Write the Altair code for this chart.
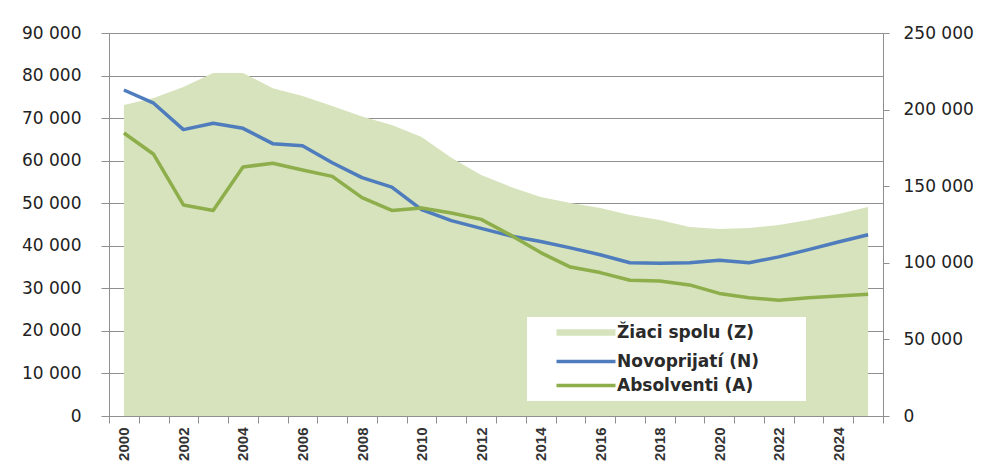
import altair as alt
import pandas as pd

years = [str(y) for y in range(2000, 2026)]
novoprijati = [76600, 73500, 67300, 68800, 67600, 64000, 63500, 59500, 56000, 53800,
               48500, 45900, 44100, 42300, 41000, 39500, 37900, 36000, 35900, 36000,
               36600, 36000, 37400, 39100, 40900, 42600]
absolventi = [66500, 61500, 49600, 48300, 58500, 59400, 57800, 56300, 51300, 48300,
              48900, 47700, 46200, 42500, 38400, 35000, 33700, 31900, 31700, 30800,
              28800, 27800, 27200, 27800, 28200, 28600]
ziaci = [203000, 207600, 214700, 223900, 223900, 214000, 208800, 202300, 195500, 190000,
         182100, 168500, 157300, 149500, 143000, 139000, 135800, 131200, 127900, 123400,
         122100, 122700, 124700, 127900, 131900, 136400]

series_names = ["Žiaci spolu (Z)", "Novoprijatí (N)", "Absolventi (A)"]
series_colors = ["#d6e3bc", "#4f7cbd", "#8dae4b"]
series_widths = [6.5, 3.5, 3.5]

area_df = pd.DataFrame({"year": years, "value": ziaci})
lines_df = pd.concat([
    pd.DataFrame({"year": years, "value": novoprijati, "series": series_names[1]}),
    pd.DataFrame({"year": years, "value": absolventi, "series": series_names[2]}),
])

GRAY = "#8f8f8f"
label_expr = "replace(format(datum.value, ','), ',', ' ')"

x_enc = alt.X(
    "year:O",
    scale=alt.Scale(type="band", paddingInner=0, paddingOuter=0),
    axis=alt.Axis(
        title=None, tickBand="extent", labelAngle=270, labelOverlap=False,
        labelExpr="toNumber(datum.value) % 2 == 0 ? datum.label : ''",
        labelFont="Liberation Sans", labelFontSize=15, labelFontWeight="bold",
        labelColor="#333333", tickSize=7, tickColor=GRAY, domainColor=GRAY,
        labelPadding=4, grid=False,
    ),
)


def make_legend():
    return alt.Legend(
        title=None, orient="none", legendX=418, legendY=284,
        fillColor="white", padding=7, rowPadding=6, labelLimit=400,
        labelFont="DejaVu Sans", labelFontSize=17, labelFontWeight="bold",
        labelColor="#2a2a2a",
        labelExpr="datum.label + '\u2800\u2800\u2800'",
        symbolType="M14,0H73", symbolSize=4, symbolOpacity=1, labelOffset=66,
    )


area = alt.Chart(area_df).mark_area(opacity=1, color=series_colors[0]).encode(
    x=x_enc,
    y=alt.Y("value:Q", scale=alt.Scale(domain=[0, 250000]),
            axis=alt.Axis(orient="right", title=None, values=list(range(0, 250001, 50000)),
                          labelExpr=label_expr, grid=False, labelFont="DejaVu Sans",
                          labelFontSize=17, labelColor="#222222", tickSize=6,
                          tickColor=GRAY, domainColor=GRAY, labelPadding=14)),
)

lines = alt.Chart(lines_df).mark_line(strokeJoin="round", strokeCap="butt").encode(
    x=x_enc,
    y=alt.Y("value:Q", scale=alt.Scale(domain=[0, 90000]),
            axis=alt.Axis(orient="left", title=None, values=list(range(0, 90001, 10000)),
                          labelExpr=label_expr, grid=True, gridColor=GRAY, gridWidth=1,
                          labelFont="DejaVu Sans", labelFontSize=17, labelColor="#222222",
                          tickSize=8, tickColor=GRAY, domainColor=GRAY, labelPadding=20)),
    color=alt.Color("series:N", scale=alt.Scale(domain=series_names, range=series_colors),
                    legend=make_legend()),
    strokeWidth=alt.StrokeWidth("series:N",
                                scale=alt.Scale(type="ordinal", domain=series_names,
                                                range=series_widths),
                                legend=make_legend()),
)

chart = alt.layer(area, lines).resolve_scale(y="independent").properties(
    width=774, height=383,
    autosize=alt.AutoSizeParams(type="none"),
    padding={"left": 101, "top": 25, "right": 99, "bottom": 48},
).configure_view(stroke="transparent")

chart.save("out.html", embed_options={"renderer": "svg", "actions": False})
